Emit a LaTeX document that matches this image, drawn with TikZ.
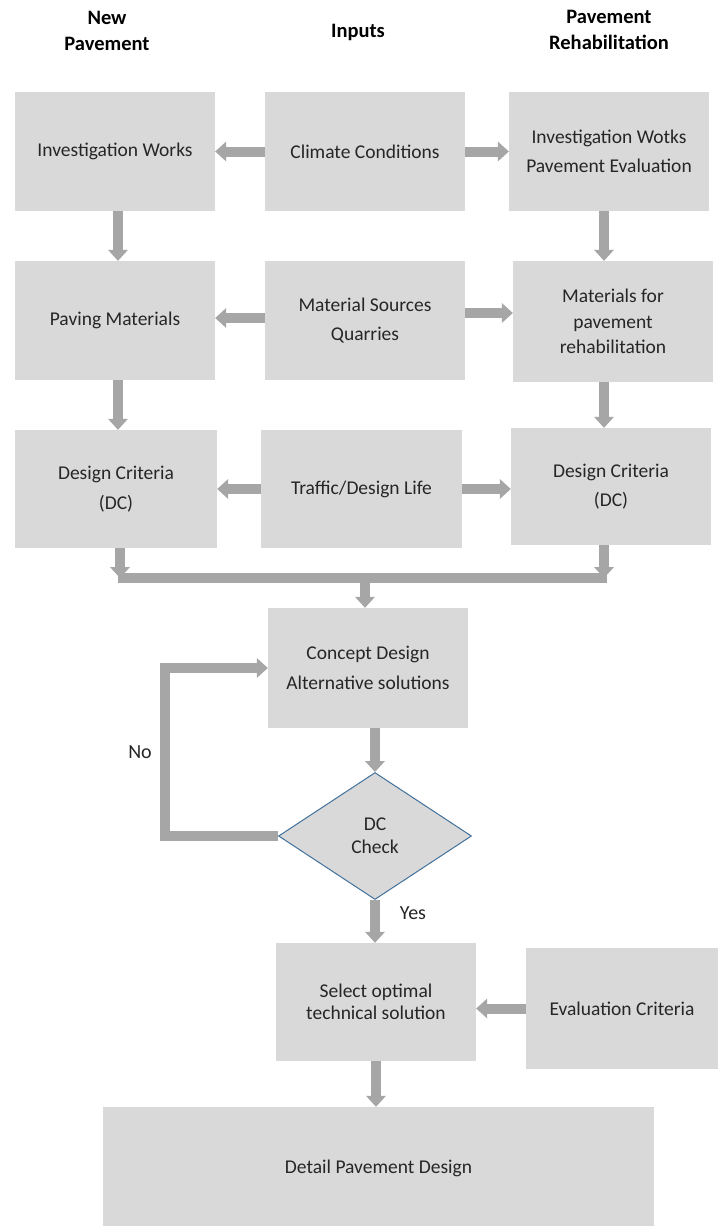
\documentclass[tikz,border=0pt]{standalone}
\usepackage{fontspec}
\setmainfont{Carlito}
\usetikzlibrary{arrows.meta,shapes.geometric}
\definecolor{boxgray}{HTML}{D9D9D9}
\definecolor{arrowgray}{HTML}{A6A6A6}
\definecolor{txt}{HTML}{262626}
\definecolor{dcblue}{HTML}{41719C}

\begin{document}
\begin{tikzpicture}[x=1pt,y=-1pt,
  block/.style={fill=boxgray, draw=none, inner sep=0pt, align=center, text=txt,
    font=\fontsize{19.5}{29.5}\selectfont},
  head/.style={align=center, inner sep=0pt, text=black,
    font=\bfseries\fontsize{20.5}{26.5}\selectfont},
  flow/.style={draw=arrowgray, line width=10pt,
    -{Triangle[width=20pt,length=11pt,line width=0pt]}},
  bar/.style={draw=arrowgray, line width=10pt},
  lbl/.style={text=txt, inner sep=0pt, font=\fontsize{20}{24}\selectfont}]

\fill[white] (0,0) rectangle (718,1226);
\useasboundingbox (0,0) rectangle (718,1226);

% column headings
\node[head] (hNew)    at (107,31) {New\\Pavement};
\node[head] (hInputs) at (358,32) {Inputs};
\node[head] (hRehab)  at (609,30) {Pavement\\Rehabilitation};

% row 1
\node[block, minimum width=200pt, minimum height=119pt] (inv)  at (115,151.5) {Investigation Works};
\node[block, minimum width=200pt, minimum height=119pt] (clim) at (365,151.5) {Climate Conditions};
\node[block, minimum width=200pt, minimum height=119pt] (invR) at (609,151.5) {Investigation Wotks\\Pavement Evaluation};

% row 2
\node[block, minimum width=200pt, minimum height=119pt] (pav)  at (115,320.5) {Paving Materials};
\node[block, minimum width=200pt, minimum height=119pt] (msrc) at (365,320.5) {Material Sources\\Quarries};
\node[block, minimum width=200pt, minimum height=121pt,
  font=\fontsize{19.5}{25.5}\selectfont] (matR) at (613,321.5) {Materials for\\pavement\\rehabilitation};

% row 3
\node[block, minimum width=202pt, minimum height=118pt] (dcL)  at (116,489) {Design Criteria\\(DC)};
\node[block, minimum width=201pt, minimum height=118pt] (traf) at (361.5,489) {Traffic/Design Life};
\node[block, minimum width=200pt, minimum height=117pt] (dcR)  at (611,486.5) {Design Criteria\\(DC)};

% design loop
\node[block, minimum width=200pt, minimum height=120pt] (concept) at (368,668) {Concept Design\\Alternative solutions};
\node[diamond, fill=boxgray, draw=dcblue, line width=1pt, minimum width=193pt, minimum height=127pt,
  inner sep=0pt, align=center, text=txt, font=\fontsize{19.5}{23}\selectfont] (dc) at (375,836) {DC\\Check};
\node[block, minimum width=200pt, minimum height=118pt,
  font=\fontsize{19.5}{22.5}\selectfont] (select) at (376,1002) {Select optimal\\technical solution};
\node[block, minimum width=192pt, minimum height=121pt] (eval) at (622,1008.5) {Evaluation Criteria};
\node[block, minimum width=551pt, minimum height=122pt] (detail) at (378.5,1168) {Detail Pavement Design};

\node[lbl] (no)  at (140,752) {No};
\node[lbl] (yes) at (413,913) {Yes};

% connector columns
\coordinate (xl) at (118,0);
\coordinate (xr) at (604,0);
\coordinate (mL) at (120,578);
\coordinate (mR) at (604,578);
\coordinate (mC) at (365,578);
\coordinate (loopB) at (165,836);

% inputs feeding both columns
\draw[flow] (clim.west) -- (clim.west -| inv.east);
\draw[flow] (clim.east) -- (clim.east -| invR.west);
\draw[flow] ([yshift=2.5pt]msrc.west) -- ([yshift=2.5pt]msrc.west -| pav.east);
\draw[flow] ([yshift=7.5pt]msrc.east) -- ([yshift=7.5pt]msrc.east -| matR.west);
\draw[flow] (traf.west) -- (traf.west -| dcL.east);
\draw[flow] (traf.east) -- (traf.east -| dcR.west);

% column flow
\draw[flow] (inv.south -| xl) -- (pav.north -| xl);
\draw[flow] (pav.south -| xl) -- (dcL.north -| xl);
\draw[flow] (invR.south -| xr) -- (matR.north -| xr);
\draw[flow] (matR.south -| xr) -- (dcR.north -| xr);

% merge into concept design
\draw[flow] (dcL.south -| mL) -- (mL);
\draw[flow] (dcR.south -| mR) -- (mR);
\draw[bar] ([xshift=-2pt]mL) -- ([xshift=3pt]mR);
\draw[flow] (mC) -- (mC |- concept.north);

% check loop
\draw[flow] (concept.south -| dc.north) -- (dc.north);
\draw[flow] (dc.west) -- (loopB) |- (concept.west);
\draw[flow] (dc.south) -- (dc.south |- select.north);
\draw[flow] (eval.west) -- (eval.west -| select.east);
\draw[flow] (select.south) -- (select.south |- detail.north);
\end{tikzpicture}
\end{document}
